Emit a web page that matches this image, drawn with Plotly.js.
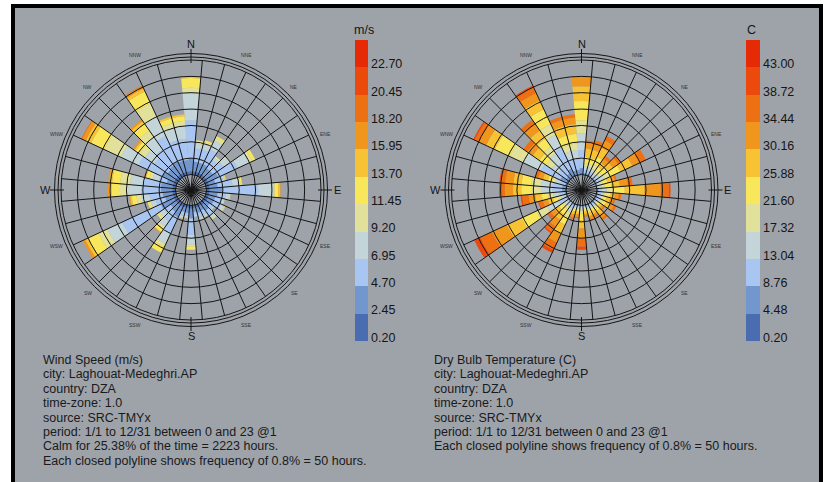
<!DOCTYPE html>
<html><head><meta charset="utf-8">
<script src="https://cdn.plot.ly/plotly-3.0.1.min.js"></script>
<style>html,body{margin:0;padding:0;background:#fff;}#chart{width:825px;height:482px;}</style>
</head><body><div id="chart"></div>
<script>
// ---------------- DATA ----------------
const directions = [0,10,20,30,40,50,60,70,80,90,100,110,120,130,140,150,160,170,180,190,200,210,220,230,240,250,260,270,280,290,300,310,320,330,340,350];
const compassNames = ['N','NNE','NE','ENE','E','ESE','SE','SSE','S','SSW','SW','WSW','W','WNW','NW','NNW'];

const speedLabels = ['0.20','2.45','4.70','6.95','9.20','11.45','13.70','15.95','18.20','20.45','22.70'];
const tempLabels  = ['0.20','4.48','8.76','13.04','17.32','21.60','25.88','30.16','34.44','38.72','43.00'];
const binColors = ['#4a6db1','#7297cf','#a9c6f2','#c4d5d9','#e2e19c','#f8e75a','#f7c233','#f0961c','#ed7012','#eb4a0c','#e62a05'];

// hours per speed bin, per direction (1 ring = 50 hours)
const s0 = [10,10,10,10,10,10,10,10,10,10,10,10,10,8,10,8,8,8,10,8,8,10,10,10,10,10,10,10,10,10,10,10,10,10,10,10];
const s1 = [40,30,30,30,25,25,35,20,25,40,25,20,20,15,20,15,18,12,30,15,15,35,25,20,45,25,30,35,35,20,40,30,35,40,35,35];
const s2 = [115,40,40,50,30,40,65,25,45,108,25,20,25,12,20,15,15,10,50,10,12,55,35,25,130,30,40,60,55,25,80,50,60,85,65,65];
const s3 = [85,15,20,30,10,20,40,5,20,48,10,8,10,5,10,5,5,5,30,5,5,35,20,15,50,15,25,40,40,20,60,35,45,65,40,40];
const s4 = [15,5,5,10,5,5,10,2,5,2,2,2,2,0,2,2,2,0,5,2,2,10,10,5,30,5,15,25,30,10,55,20,25,45,15,15];
const s5 = [30,5,5,5,0,0,10,2,5,12,2,0,2,0,2,0,2,0,10,0,2,20,10,5,35,5,15,25,25,10,45,15,25,40,15,15];
const s6 = [5,0,0,0,0,0,0,0,0,5,0,0,0,0,0,0,0,0,0,0,0,0,2,0,10,0,5,8,8,2,18,5,10,10,5,5];
const s7 = [0,0,0,0,0,0,0,0,0,2,0,0,0,0,0,0,0,0,0,0,0,0,3,0,8,0,2,4,4,3,12,5,6,8,0,0];
const s8 = [0,0,0,0,0,0,0,0,0,0,0,0,0,0,0,0,0,0,0,0,0,0,0,0,0,0,0,0,0,0,3,0,0,2,0,0];
const s9 = [0,0,0,0,0,0,0,0,0,0,0,0,0,0,0,0,0,0,0,0,0,0,0,0,0,0,0,0,0,0,0,0,0,0,0,0];
const s10= [0,0,0,0,0,0,0,0,0,0,0,0,0,0,0,0,0,0,0,0,0,0,0,0,0,0,0,0,0,0,0,0,0,0,0,0];

// hours per temperature bin, per direction
const t0 = [5,0,0,0,0,0,0,0,0,0,0,0,0,0,0,0,0,0,0,0,0,0,0,0,0,0,0,2,2,0,5,0,2,5,2,2];
const t1 = [15,5,5,5,0,0,5,0,0,5,5,4,4,3,4,3,3,2,0,2,2,5,0,2,5,3,5,10,10,5,20,10,13,20,13,13];
const t2 = [55,10,10,10,5,10,10,5,5,10,8,6,7,4,6,4,5,3,5,4,4,10,5,6,25,7,15,30,30,15,65,30,40,70,35,35];
const t3 = [50,10,10,10,10,10,15,5,10,15,8,6,7,4,6,5,5,4,10,4,4,15,10,8,40,9,20,35,35,15,60,25,35,45,25,25];
const t4 = [40,10,10,15,10,10,20,10,10,20,8,6,7,4,6,5,5,4,10,4,5,15,10,8,35,9,15,30,30,10,45,20,25,35,20,20];
const t5 = [60,20,20,25,15,20,35,15,20,35,12,10,12,7,11,8,8,6,20,6,7,25,20,14,50,15,20,30,30,15,50,25,30,50,30,30];
const t6 = [45,25,25,30,15,20,40,15,25,60,14,12,14,8,13,9,10,7,25,8,9,30,20,16,50,17,20,25,25,15,30,25,30,30,30,30];
const t7 = [30,20,20,25,15,20,25,10,25,50,12,10,12,6,12,7,9,6,30,8,9,30,25,14,50,15,20,25,25,15,25,20,25,25,20,20];
const t8 = [0,5,10,15,10,10,20,5,15,25,8,6,7,4,7,4,5,3,25,4,5,25,20,10,40,12,20,15,15,10,13,15,15,20,10,10];
const t9 = [0,0,0,0,0,0,0,0,0,5,0,0,0,0,0,0,0,0,10,0,0,10,5,2,20,3,5,3,3,0,5,0,0,5,0,0];
const t10= [0,0,0,0,0,0,0,0,0,0,0,0,0,0,0,0,0,0,0,0,0,0,0,0,0,0,0,0,0,0,0,0,0,0,0,0];

const speedBins = [s0,s1,s2,s3,s4,s5,s6,s7,s8,s9,s10];
const tempBins  = [t0,t1,t2,t3,t4,t5,t6,t7,t8,t9,t10];

const leftInfo = ['Wind Speed (m/s)','city: Laghouat-Medeghri.AP','country: DZA','time-zone: 1.0','source: SRC-TMYx','period: 1/1 to 12/31 between 0 and 23 @1','Calm for 25.38% of the time = 2223 hours.','Each closed polyline shows frequency of 0.8% = 50 hours.'];
const rightInfo = ['Dry Bulb Temperature (C)','city: Laghouat-Medeghri.AP','country: DZA','time-zone: 1.0','source: SRC-TMYx','period: 1/1 to 12/31 between 0 and 23 @1','Each closed polyline shows frequency of 0.8% = 50 hours.'];

// ---------------- LAYOUT GEOMETRY ----------------
const W = 825, H = 482;
const FONT = 'Liberation Sans, Arial, sans-serif';
const RAD = 130;           // outer grid ring radius in px
const CALM_PX = 15.5;      // calm circle radius in px
const RMAX = 350;          // 7 rings of 50 hours
const R0 = RMAX * CALM_PX / (RAD - CALM_PX);
const roses = [{cx:191, cy:190, data:speedBins, p:'polar', g:'polar2'},
               {cx:581.5, cy:190, data:tempBins, p:'polar3', g:'polar4'}];

function dom(cx, cy, r){ return {x:[(cx-r)/W,(cx+r)/W], y:[(H-cy-r)/H,(H-cy+r)/H]}; }
const px = v => v / W, py = v => 1 - v / H;

const traces = [];
const layout = {
  width: W, height: H, margin:{l:0,r:0,t:0,b:0}, paper_bgcolor:'#ffffff',
  font:{family:FONT, color:'#151515'}, showlegend:false,
  shapes:[], annotations:[]
};
layout.shapes.push({type:'rect', xref:'paper', yref:'paper', layer:'below',
  x0:px(13), x1:px(821), y0:py(486), y1:py(6), fillcolor:'#9ea3aa', line:{color:'#000', width:4}});

roses.forEach(rs => {
  const d = dom(rs.cx, rs.cy, RAD);
  layout[rs.p] = {domain:d, bgcolor:'rgba(0,0,0,0)', barmode:'stack',
    radialaxis:{range:[-R0, RMAX], visible:false},
    angularaxis:{rotation:90, direction:'clockwise', visible:false}};
  layout[rs.g] = {domain:d, bgcolor:'rgba(0,0,0,0)',
    radialaxis:{range:[-R0, RMAX], tickmode:'linear', tick0:0, dtick:50, showticklabels:false, ticks:'', showline:false, gridcolor:'#151515', gridwidth:1},
    angularaxis:{rotation:90, direction:'clockwise', tickmode:'linear', tick0:5, dtick:10, showticklabels:false, ticks:'',
      gridcolor:'#151515', gridwidth:1, showline:true, linecolor:'#151515', linewidth:1}};
  rs.data.forEach((arr, i) => {
    traces.push({type:'barpolar', subplot:rs.p, r:arr, theta:directions, width:10,
      marker:{color:binColors[i], line:{width:0}}, hoverinfo:'skip'});
  });
  traces.push({type:'scatterpolar', subplot:rs.g, r:[0], theta:[0], mode:'markers', marker:{opacity:0}, hoverinfo:'skip'});
  // outer compass circles
  [133, 136.5].forEach(r => {
    layout.shapes.push({type:'circle', xref:'paper', yref:'paper', x0:px(rs.cx-r), x1:px(rs.cx+r), y0:(H-rs.cy-r)/H, y1:(H-rs.cy+r)/H, line:{color:'#151515', width:1}});
  });
  compassNames.forEach((nm, k) => {
    const a = k * 22.5 * Math.PI / 180;
    const card = (k % 4 === 0);
    const lr = 146;
    layout.annotations.push({xref:'paper', yref:'paper', x:px(rs.cx + lr*Math.sin(a)), y:py(rs.cy - lr*Math.cos(a)),
      text:nm, showarrow:false, xanchor:'center', yanchor:'middle',
      font:{size: card ? 11 : 5, color: card ? '#151515' : '#333'}});
    if (card) {
      layout.shapes.push({type:'line', xref:'paper', yref:'paper',
        x0:px(rs.cx + 127*Math.sin(a)), y0:py(rs.cy - 127*Math.cos(a)),
        x1:px(rs.cx + 141*Math.sin(a)), y1:py(rs.cy - 141*Math.cos(a)), line:{color:'#151515', width:1}});
    }
  });
});

// legends (discrete colour bars)
const legends = [{xa:'xaxis', ya:'yaxis', x:'x', y:'y', x0:355, x1:368, labels:speedLabels, unit:'m/s', ux:364},
                 {xa:'xaxis2', ya:'yaxis2', x:'x2', y:'y2', x0:746, x1:760, labels:tempLabels, unit:'C', ux:751}];
legends.forEach(lg => {
  const idx = lg.labels.map((_, i) => i);
  traces.push({type:'heatmap', xaxis:lg.x, yaxis:lg.y, x:[0], y:idx, z:idx.map(i => [i]),
    zmin:0, zmax:lg.labels.length-1, colorscale:binColors.map((c,i) => [i/(binColors.length-1), c]), showscale:false, hoverinfo:'skip'});
  layout[lg.xa] = {domain:[px(lg.x0), px(lg.x1)], anchor:lg.y, range:[-0.5,0.5], visible:false, fixedrange:true};
  layout[lg.ya] = {domain:[py(341), py(40)], anchor:lg.x, side:'right', range:[-0.5, lg.labels.length-0.5],
    tickmode:'array', tickvals:idx.map(i => i - 0.5 + 0.13), ticktext:lg.labels, ticks:'', showgrid:false, zeroline:false, showline:false,
    tickfont:{size:12.5, color:'#151515'}, ticklabelstandoff:2, fixedrange:true};
  layout.annotations.push({xref:'paper', yref:'paper', x:px(lg.ux), y:py(30), text:lg.unit, showarrow:false,
    xanchor:'center', yanchor:'middle', font:{size:12.5, color:'#151515'}});
});

// info text
[[leftInfo, 41], [rightInfo, 432]].forEach(([lines, x]) => {
  lines.forEach((t, i) => {
    layout.annotations.push({xref:'paper', yref:'paper', x:px(x), y:py(360 + 14.4*i), text:t, showarrow:false,
      xanchor:'left', yanchor:'middle', font:{size:12.5, color:'#1a1a1a'}});
  });
});

Plotly.newPlot('chart', traces, layout, {staticPlot:true, displayModeBar:false});
</script></body></html>
